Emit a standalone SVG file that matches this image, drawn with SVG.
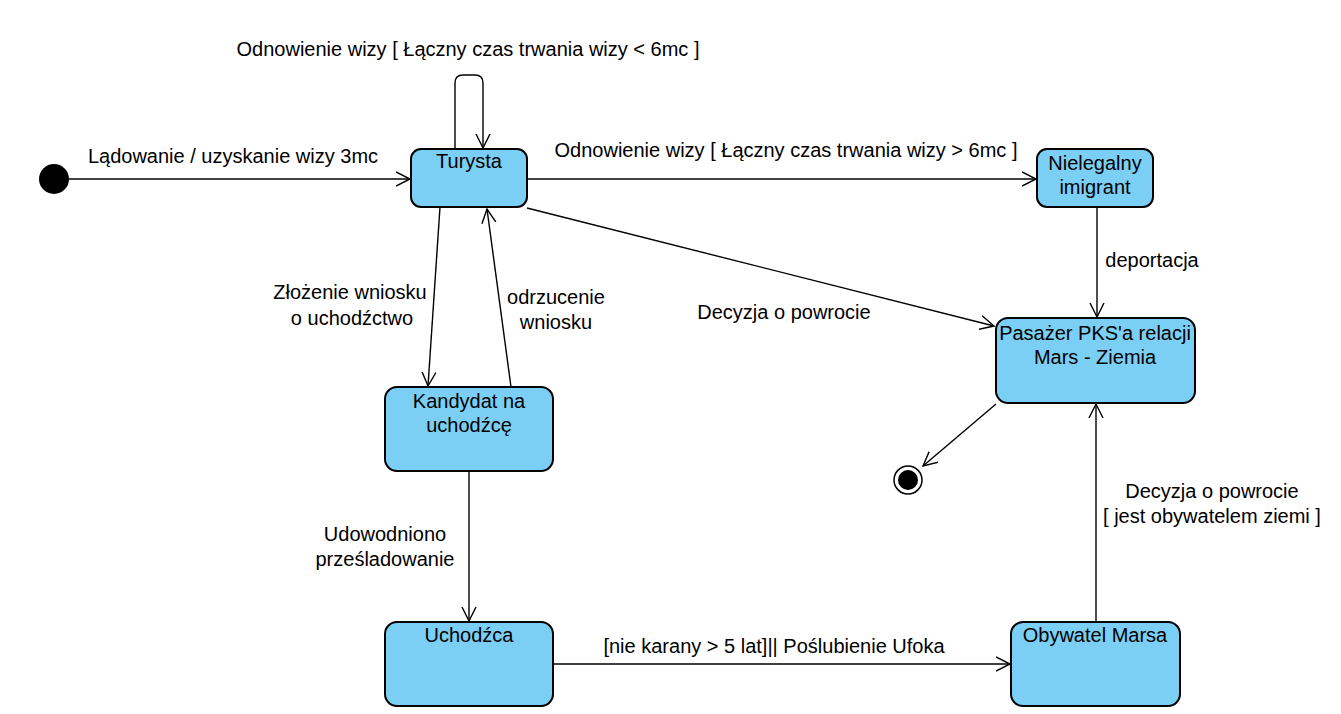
<svg xmlns="http://www.w3.org/2000/svg" width="1341" height="714" viewBox="0 0 1341 714">
<style>
.state{fill:#7bcff4;stroke:#000;stroke-width:2}
.lbl{font-family:"Liberation Sans",Arial,sans-serif;font-size:20px;fill:#000;text-anchor:middle}
.edge{fill:none;stroke:#000;stroke-width:1.4}
</style>
<defs>
<marker id="arr" markerUnits="userSpaceOnUse" markerWidth="16" markerHeight="16" refX="14" refY="8" orient="auto">
<path d="M0,1 L14,8 L0,15" fill="none" stroke="#000" stroke-width="1.4"/>
</marker>
</defs>
<rect width="1341" height="714" fill="#fff"/>
<g id="connectors">
<line class="edge" x1="69" y1="179" x2="410" y2="179" marker-end="url(#arr)"/>
<path class="edge" d="M455,149 L455,83 Q455,75 463,75 L475,75 Q483,75 483,83 L483,148" marker-end="url(#arr)"/>
<line class="edge" x1="527" y1="179" x2="1036" y2="179" marker-end="url(#arr)"/>
<line class="edge" x1="527" y1="208" x2="994" y2="326" marker-end="url(#arr)"/>
<line class="edge" x1="440" y1="207" x2="428" y2="386" marker-end="url(#arr)"/>
<line class="edge" x1="511" y1="387" x2="487" y2="209" marker-end="url(#arr)"/>
<line class="edge" x1="469" y1="471" x2="469" y2="621" marker-end="url(#arr)"/>
<line class="edge" x1="553" y1="664" x2="1010" y2="664" marker-end="url(#arr)"/>
<line class="edge" x1="1096" y1="622" x2="1096" y2="404" marker-end="url(#arr)"/>
<line class="edge" x1="1097" y1="207" x2="1097" y2="317" marker-end="url(#arr)"/>
<line class="edge" x1="996" y1="404" x2="923" y2="466" marker-end="url(#arr)"/>
<text class="lbl" x="233" y="163">Lądowanie / uzyskanie wizy 3mc</text>
<text class="lbl" x="468" y="56">Odnowienie wizy [ Łączny czas trwania wizy &lt; 6mc ]</text>
<text class="lbl" x="786" y="157">Odnowienie wizy [ Łączny czas trwania wizy &gt; 6mc ]</text>
<text class="lbl" x="350" y="299">Złożenie wniosku</text>
<text class="lbl" x="352" y="325">o uchodźctwo</text>
<text class="lbl" x="556" y="304">odrzucenie</text>
<text class="lbl" x="556" y="329">wniosku</text>
<text class="lbl" x="784" y="319">Decyzja o powrocie</text>
<text class="lbl" x="1152" y="267">deportacja</text>
<text class="lbl" x="385" y="541">Udowodniono</text>
<text class="lbl" x="385" y="566">prześladowanie</text>
<text class="lbl" x="774" y="653">[nie karany &gt; 5 lat]|| Poślubienie Ufoka</text>
<text class="lbl" x="1212" y="498">Decyzja o powrocie</text>
<text class="lbl" x="1212" y="523">[ jest obywatelem ziemi ]</text>
</g>
<g id="initial"><circle cx="54" cy="179" r="15" fill="#000"/></g>
<g id="final"><circle cx="908" cy="480" r="14" fill="#fff" stroke="#000" stroke-width="1.5"/><circle cx="908" cy="480" r="10" fill="#000"/></g>
<g id="turysta"><rect class="state" x="411" y="149" width="116" height="58" rx="10"/><text class="lbl" x="469" y="168">Turysta</text></g>
<g id="nielegalny"><rect class="state" x="1037" y="149" width="116" height="58" rx="10"/><text class="lbl" x="1095" y="170">Nielegalny</text><text class="lbl" x="1095" y="194">imigrant</text></g>
<g id="pasazer"><rect class="state" x="996" y="318" width="199" height="85" rx="12"/><text class="lbl" x="1095" y="340">Pasażer PKS'a relacji</text><text class="lbl" x="1095" y="364">Mars - Ziemia</text></g>
<g id="kandydat"><rect class="state" x="385" y="387" width="168" height="84" rx="12"/><text class="lbl" x="469" y="408">Kandydat na</text><text class="lbl" x="469" y="432">uchodźcę</text></g>
<g id="uchodzca"><rect class="state" x="385" y="622" width="168" height="84" rx="12"/><text class="lbl" x="469" y="642">Uchodźca</text></g>
<g id="obywatel"><rect class="state" x="1011" y="622" width="169" height="84" rx="12"/><text class="lbl" x="1095" y="642">Obywatel Marsa</text></g>
</svg>
